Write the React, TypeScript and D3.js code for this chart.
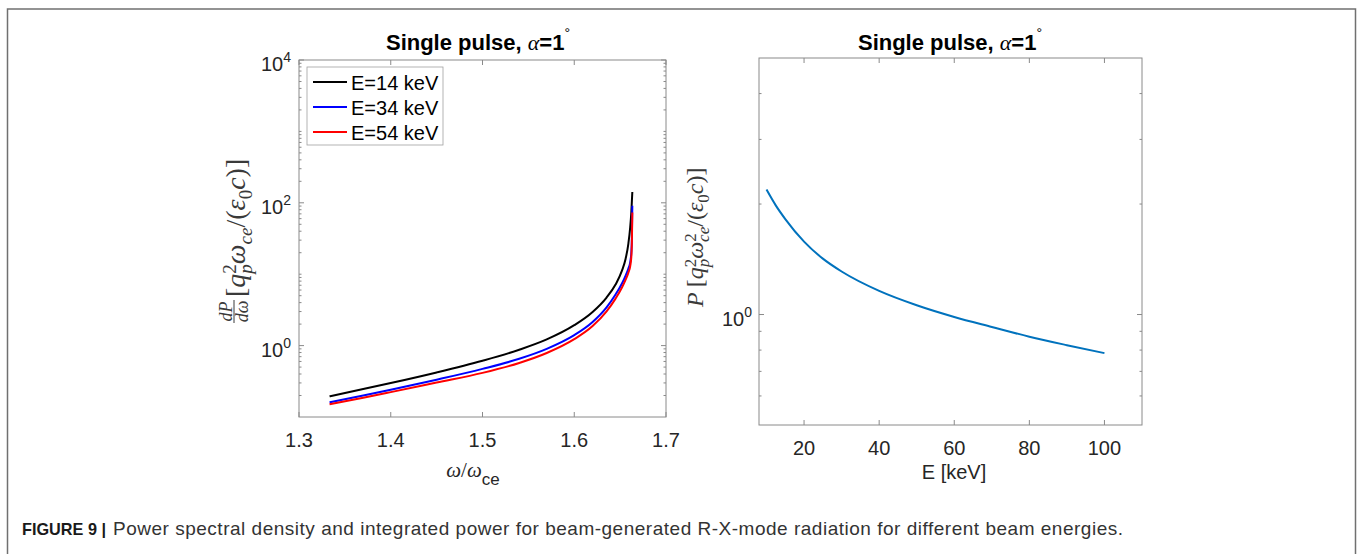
import React from 'react';
import * as d3 from 'd3';

// left panel: spectral density vs omega/omega_ce
const omega = [1.3333, 1.37, 1.4, 1.45, 1.5, 1.54, 1.57, 1.6, 1.62, 1.635, 1.645, 1.652, 1.656, 1.659, 1.661, 1.6622, 1.6628, 1.6633];
const densityE14 = [0.195, 0.246, 0.299, 0.421, 0.614, 0.875, 1.22, 1.93, 2.96, 4.67, 7.16, 11.2, 16.5, 26.9, 45.7, 73.8, 105, 142];
const densityE34 = [0.161, 0.2, 0.241, 0.333, 0.472, 0.653, 0.899, 1.4, 2.14, 3.4, 5.19, 7.41, 9.55, 12.0, 14.8, 20.0, 31.6, 91];
const densityE54 = [0.151, 0.186, 0.223, 0.304, 0.415, 0.571, 0.787, 1.23, 1.88, 2.99, 4.55, 6.5, 8.37, 10.5, 13.0, 17.5, 27.5, 73];
const legendLabels = ['E=14 keV', 'E=34 keV', 'E=54 keV'];

// right panel: integrated power vs beam energy
const energy = [10, 12.5, 15, 20, 25, 30, 40, 50, 60, 70, 80, 90, 100];
const totalPower = [2.19, 1.98, 1.82, 1.58, 1.42, 1.31, 1.16, 1.06, 0.985, 0.925, 0.87, 0.825, 0.785];

const leftXTicks = [1.3, 1.4, 1.5, 1.6, 1.7];
const leftYExponents = [0, 2, 4];
const rightXTicks = [20, 40, 60, 80, 100];
const rightYExponents = [0];

const seriesColors = ['#000000', '#0000ff', '#ff0000'];
const sans = '"Liberation Sans", Arial, Helvetica, sans-serif';
const serif = '"Liberation Serif", "DejaVu Serif", serif';
const tickColor = '#262626';
const boxColor = '#8a8a8a';
const labelColor = '#3a3a3a';

function logMinor(domain: [number, number], skip: number[]) {
  const out: number[] = [];
  for (let k = -2; k <= 5; k++) {
    for (let m = 1; m <= 9; m++) {
      const v = m * Math.pow(10, k);
      if (v > domain[0] * 1.0001 && v < domain[1] * 0.9999 && !skip.some(s => Math.abs(s - v) < 1e-9)) out.push(v);
    }
  }
  return out;
}

function Frame({ x, y, xTicks, yMajor, yMinor }: any) {
  const [x0, x1] = x.range();
  const [y0, y1] = y.range();
  const maj = 5, mino = 2.5;
  return (
    <g stroke={boxColor} strokeWidth={1} fill="none">
      <rect x={x0} y={y1} width={x1 - x0} height={y0 - y1} />
      {xTicks.map((t: number) => (
        <g key={'x' + t}>
          <line x1={x(t)} x2={x(t)} y1={y0} y2={y0 - maj} />
          <line x1={x(t)} x2={x(t)} y1={y1} y2={y1 + maj} />
        </g>
      ))}
      {yMajor.map((t: number) => (
        <g key={'ym' + t}>
          <line x1={x0} x2={x0 + maj} y1={y(t)} y2={y(t)} />
          <line x1={x1} x2={x1 - maj} y1={y(t)} y2={y(t)} />
        </g>
      ))}
      {yMinor.map((t: number) => (
        <g key={'yn' + t}>
          <line x1={x0} x2={x0 + mino} y1={y(t)} y2={y(t)} />
          <line x1={x1} x2={x1 - mino} y1={y(t)} y2={y(t)} />
        </g>
      ))}
    </g>
  );
}

function PowLabel({ x, y, exp }: { x: number; y: number; exp: number }) {
  return (
    <text x={x} y={y} textAnchor="end" fontFamily={sans} fontSize={20} fill={tickColor}>
      10<tspan fontSize={14} dy={-9}>{exp}</tspan>
    </text>
  );
}

function Title({ cx }: { cx: number }) {
  return (
    <text x={cx} y={50} textAnchor="middle" fontFamily={sans} fontSize={22} fontWeight="bold" fill="#000">
      Single pulse, <tspan fontFamily={serif} fontStyle="italic" fontWeight="normal">α</tspan>=1
      <tspan fontSize={14} fontWeight="normal" dy={-12}>°</tspan>
    </text>
  );
}

export default function App() {
  // left panel scales
  const lx = d3.scaleLinear().domain([1.3, 1.7]).range([299, 666]);
  const ly = d3.scaleLog().domain([1e-1, 1e4]).range([417, 60]);
  // right panel scales
  const rx = d3.scaleLinear().domain([8, 110]).range([759, 1142]);
  const ry = d3.scaleLog().domain([0.5, 5]).range([425, 58]);

  const leftSeries = [densityE14, densityE34, densityE54];
  const leftLine = d3.line<number>().x((_, i) => lx(omega[i])).y(d => ly(d)).curve(d3.curveMonotoneX);
  const rightLine = d3.line<number>().x((_, i) => rx(energy[i])).y(d => ry(d)).curve(d3.curveMonotoneX);

  const leftMajor = leftYExponents.map(e => Math.pow(10, e));
  const leftMinor = logMinor([1e-1, 1e4], leftMajor);
  const rightMajor = rightYExponents.map(e => Math.pow(10, e));
  const rightMinor = logMinor([0.5, 5], rightMajor);

  return (
    <svg width={1360} height={554} style={{ position: 'absolute', left: 0, top: 0, background: '#fff' }}>
      <rect width={1360} height={554} fill="#fff" />
      <path d="M7.5,560 V9 H1355.5 V560" fill="none" stroke="#707070" strokeWidth={1.5} />

      {/* ---------- left panel ---------- */}
      <Title cx={478} />
      {leftSeries.map((s, i) => (
        <path key={i} d={leftLine(s) || ''} fill="none" stroke={seriesColors[i]} strokeWidth={2} />
      ))}
      <Frame x={lx} y={ly} xTicks={leftXTicks} yMajor={leftMajor} yMinor={leftMinor} />
      {leftXTicks.map(t => (
        <text key={t} x={lx(t)} y={447} textAnchor="middle" fontFamily={sans} fontSize={20} fill={tickColor}>
          {t.toFixed(1)}
        </text>
      ))}
      {leftYExponents.map(e => (
        <PowLabel key={e} x={291} y={ly(Math.pow(10, e)) + 11} exp={e} />
      ))}
      <text x={473} y={477} textAnchor="middle" fontSize={21} fill={tickColor}>
        <tspan fontFamily={serif} fontStyle="italic">ω</tspan>
        <tspan fontFamily={serif}>/</tspan>
        <tspan fontFamily={serif} fontStyle="italic">ω</tspan>
        <tspan fontFamily={sans} fontSize={17} dy={8}>ce</tspan>
      </text>
      <g transform="translate(245,323) rotate(-90)" fill={labelColor} fontFamily={serif}>
        <text x={11.5} y={-13.5} fontSize={18} fontStyle="italic" textAnchor="middle">dP</text>
        <line x1={0} x2={23} y1={-11} y2={-11} stroke={labelColor} strokeWidth={1} />
        <text x={11.5} y={3} fontSize={18} fontStyle="italic" textAnchor="middle">dω</text>
        <text x={26} y={0} fontSize={28}>
          <tspan>[</tspan>
          <tspan fontStyle="italic">q</tspan>
          <tspan fontSize={19} fontStyle="italic" dy={7}>p</tspan>
          <tspan fontSize={19} dx={-9.5} dy={-16.5}>2</tspan>
          <tspan fontStyle="italic" dy={9.5}>ω</tspan>
          <tspan fontSize={19} fontStyle="italic" dy={7}>ce</tspan>
          <tspan dy={-7}>/(</tspan>
          <tspan fontStyle="italic">ε</tspan>
          <tspan fontSize={19} dy={7}>0</tspan>
          <tspan fontStyle="italic" dy={-7}>c</tspan>
          <tspan>)]</tspan>
        </text>
      </g>
      {/* legend */}
      <g>
        <rect x={307} y={67} width={136} height={78} fill="#fff" stroke="#a0a0a0" strokeWidth={0.8} />
        {legendLabels.map((l, i) => (
          <g key={l}>
            <line x1={313} x2={347} y1={82 + i * 25} y2={82 + i * 25} stroke={seriesColors[i]} strokeWidth={2} />
            <text x={351} y={89.5 + i * 25} fontFamily={sans} fontSize={20} fill="#000">{l}</text>
          </g>
        ))}
      </g>

      {/* ---------- right panel ---------- */}
      <Title cx={950} />
      <path d={rightLine(totalPower) || ''} fill="none" stroke="#0072bd" strokeWidth={2} />
      <Frame x={rx} y={ry} xTicks={rightXTicks} yMajor={rightMajor} yMinor={rightMinor} />
      {rightXTicks.map(t => (
        <text key={t} x={rx(t)} y={455} textAnchor="middle" fontFamily={sans} fontSize={20} fill={tickColor}>
          {t}
        </text>
      ))}
      {rightYExponents.map(e => (
        <PowLabel key={e} x={752} y={ry(Math.pow(10, e)) + 11.5} exp={e} />
      ))}
      <text x={954} y={479} textAnchor="middle" fontFamily={sans} fontSize={20} fill={tickColor}>E [keV]</text>
      <g transform="translate(703,307) rotate(-90)" fill={labelColor} fontFamily={serif}>
        <text x={0} y={0} fontSize={24}>
          <tspan fontStyle="italic">P</tspan>
          <tspan dx={5}>[</tspan>
          <tspan fontStyle="italic">q</tspan>
          <tspan fontSize={17} fontStyle="italic" dy={5.5}>p</tspan>
          <tspan fontSize={17} dx={-8.5} dy={-13}>2</tspan>
          <tspan fontStyle="italic" dy={7.5}>ω</tspan>
          <tspan fontSize={17} fontStyle="italic" dy={5.5}>ce</tspan>
          <tspan fontSize={17} dx={-15} dy={-13}>2</tspan>
          <tspan dx={6.5} dy={7.5}>/(</tspan>
          <tspan fontStyle="italic">ε</tspan>
          <tspan fontSize={17} dy={5.5}>0</tspan>
          <tspan fontStyle="italic" dy={-5.5}>c</tspan>
          <tspan>)]</tspan>
        </text>
      </g>

      {/* caption */}
      <text x={22} y={535} fontFamily={sans} fontSize={17} fontWeight="bold" fill="#1a1a1a" textLength={84} lengthAdjust="spacingAndGlyphs">FIGURE 9 |</text>
      <text x={113} y={535} fontFamily={sans} fontSize={19} fill="#333" textLength={1010} lengthAdjust="spacing">
        Power spectral density and integrated power for beam-generated R-X-mode radiation for different beam energies.
      </text>
    </svg>
  );
}
